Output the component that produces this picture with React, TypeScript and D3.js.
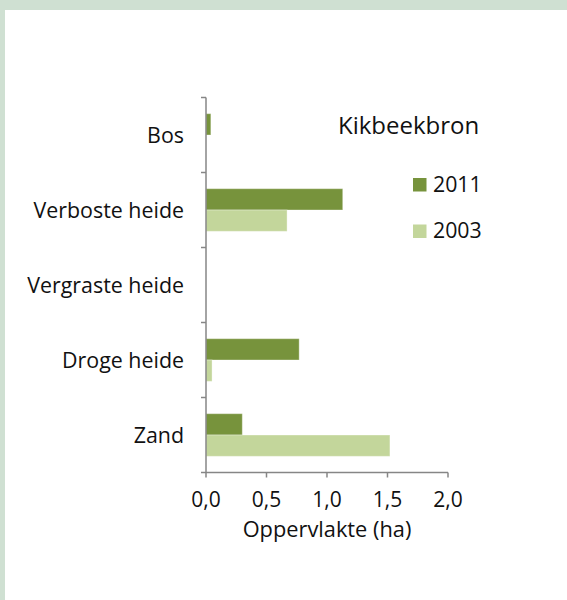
import * as d3 from "d3";

// categories top to bottom
const categories = ["Bos", "Verboste heide", "Vergraste heide", "Droge heide", "Zand"];
const series = ["2011", "2003"];
const values2011 = [0.04, 1.13, 0, 0.77, 0.3];
const values2003 = [0, 0.67, 0, 0.05, 1.52];
const xTicks = [0, 0.5, 1, 1.5, 2];
const title = "Kikbeekbron";
const xTitle = "Oppervlakte (ha)";

const colors: Record<string, string> = { "2011": "#77933C", "2003": "#C3D69B" };
const font = "'Open Sans', sans-serif";

const App = () => {
  const width = 567;
  const height = 600;
  const margin = { top: 97.5, left: 206, right: 119, bottom: 127.5 };

  const x = d3
    .scaleLinear()
    .domain([0, 2])
    .range([margin.left, width - margin.right]);

  const y = d3
    .scaleBand()
    .domain(categories)
    .range([margin.top, height - margin.bottom]);

  const inner = d3
    .scaleBand()
    .domain(series)
    .range([0, y.bandwidth()])
    .paddingOuter(0.76);

  const rows = categories.map((c, i) => ({ cat: c, "2011": values2011[i], "2003": values2003[i] }));
  const axisColor = "#868686";
  const txt = "#111";
  const y0 = height - margin.bottom;

  return (
    <svg
      width={width}
      height={height}
      style={{ position: "absolute", left: 0, top: 0, display: "block", background: "#fff" }}
      fontFamily={font}
    >
      {/* frame */}
      <rect x={0} y={0} width={width} height={10} fill="#CFE0D2" />
      <rect x={0} y={0} width={5} height={height} fill="#CFE0D2" />

      {/* bars */}
      {rows.map((r) =>
        series.map((s) => {
          const v = (r as any)[s] as number;
          if (!v) return null;
          return (
            <rect
              key={r.cat + s}
              x={x(0)}
              y={(y(r.cat) ?? 0) + (inner(s) ?? 0)}
              width={x(v) - x(0)}
              height={inner.bandwidth()}
              fill={colors[s]}
              stroke="#fff"
              strokeOpacity={0.35}
              strokeWidth={1}
            />
          );
        })
      )}

      {/* y axis */}
      <line x1={x(0)} x2={x(0)} y1={margin.top} y2={y0} stroke={axisColor} strokeWidth={1.5} />
      {[...categories.map((c) => y(c) ?? 0), y0].map((t, i) => (
        <line key={i} x1={x(0) - 5} x2={x(0)} y1={t} y2={t} stroke={axisColor} strokeWidth={1.5} />
      ))}
      {categories.map((c) => (
        <text
          key={c}
          x={184}
          y={(y(c) ?? 0) + y.bandwidth() / 2}
          dy="0.36em"
          textAnchor="end"
          fontSize={21.4}
          fill={txt}
        >
          {c}
        </text>
      ))}

      {/* x axis */}
      <line x1={x(0)} x2={x(2)} y1={y0} y2={y0} stroke={axisColor} strokeWidth={1.5} />
      {xTicks.map((t) => (
        <g key={t}>
          <line x1={x(t)} x2={x(t)} y1={y0} y2={y0 + 5} stroke={axisColor} strokeWidth={1.5} />
          <text x={x(t)} y={507} textAnchor="middle" fontSize={21} fill={txt}>
            {d3.format(".1f")(t).replace(".", ",")}
          </text>
        </g>
      ))}
      <text x={(x(0) + x(2)) / 2} y={537} textAnchor="middle" fontSize={21.8} fill={txt}>
        {xTitle}
      </text>

      {/* title + legend */}
      <text x={338} y={134} fontSize={24} fill={txt}>
        {title}
      </text>
      {series.map((s, i) => (
        <g key={s} transform={`translate(413, ${178 + i * 46.5})`}>
          <rect width={13.5} height={13.5} fill={colors[s]} />
          <text x={20} y={13.5} fontSize={21.3} fill={txt}>
            {s}
          </text>
        </g>
      ))}
    </svg>
  );
};

export default App;
